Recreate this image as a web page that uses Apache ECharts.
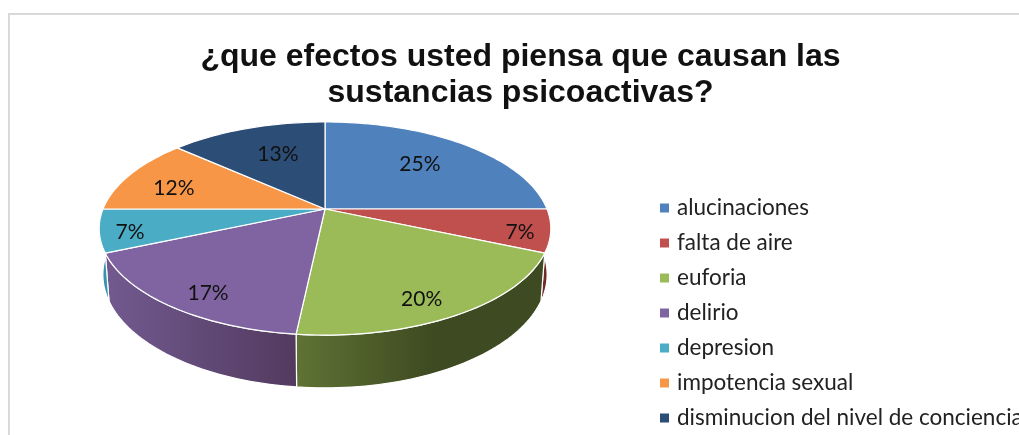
<!DOCTYPE html>
<html>
<head>
<meta charset="utf-8">
<style>html,body{margin:0;padding:0;background:#fff}#chart{width:1019px;height:435px}</style>
<script src="https://cdn.jsdelivr.net/npm/echarts@6/dist/echarts.min.js"></script>
</head>
<body>
<div id="chart"></div>
<script>
// Survey answers: share of respondents per perceived effect, in percent.
const categories = ['alucinaciones', 'falta de aire', 'euforia', 'delirio', 'depresion', 'impotencia sexual', 'disminucion del nivel de conciencia'];
const shares = [25, 6.5, 20.2, 16.8, 6.5, 11.6, 13.4];

const faceColors = ['#4f81bd', '#c0504d', '#9bbb59', '#8064a2', '#4bacc6', '#f79646', '#2c4d75'];
const wallShades = [
  ['#3a5f8c', '#2c4a6e'], ['#7a2f2d', '#5e2322'], ['#5f7334', '#3e4a21'], ['#725a90', '#523a5f'],
  ['#2f8aa3', '#3a9db6'], ['#b36a2c', '#a05e24'], ['#1f3856', '#1a2f49']
];
// Where each percentage sits: fraction of the radius, and degrees away from the slice's bisector.
const labelRadius = [0.674, 0.87, 0.836, 0.839, 0.87, 0.742, 0.648];
const labelTurn = [-1.3, 2, 3.5, -3.2, -2, -3.5, 2.8];

// Perspective disc: unit circle -> screen, with the hub off the ellipse centre.
const hub = { x: 325, y: 209 };
const scale = { x: 222, y: 103 };
const tilt = 0.183;
const drop = { height: 46, recede: 0.016 };
const START = -90;

function project(deg, r, lowered) {
  const t = deg * Math.PI / 180;
  const u = r * Math.cos(t), v = r * Math.sin(t);
  const w = 1 - tilt * v + (lowered ? drop.recede : 0);
  return [hub.x + scale.x * u / w, hub.y + (scale.y * v + (lowered ? drop.height : 0)) / w];
}
function arc(from, to, lowered) {
  const n = Math.max(2, Math.ceil(Math.abs(to - from) / 1.5));
  const pts = [];
  for (let i = 0; i <= n; i++) pts.push(project(from + (to - from) * i / n, 1, lowered));
  return pts;
}

const total = shares.reduce((a, b) => a + b, 0);
let running = 0;
const rows = shares.map(v => { const row = [v, running]; running += v; return row; });

function renderSlice(index) {
  return function (params, api) {
    const value = api.value(0), before = api.value(1);
    const a0 = START + before / total * 360;
    const a1 = a0 + value / total * 360;
    const children = [];

    // Front wall: only the stretch of rim facing the viewer (0..180 degrees).
    const w0 = Math.max(a0, 0), w1 = Math.min(a1, 180);
    if (w1 > w0) {
      const upper = arc(w0, w1, false), lower = arc(w0, w1, true).reverse();
      const pts = upper.concat(lower);
      const xs = pts.map(p => p[0]);
      children.push({
        type: 'polygon', z2: 1,
        shape: { points: pts },
        style: {
          stroke: '#fff', lineWidth: 1.2,
          fill: {
            type: 'linear', global: true,
            x: Math.min.apply(null, xs), y: 0, x2: Math.max.apply(null, xs), y2: 0,
            colorStops: [{ offset: 0, color: wallShades[index][0] }, { offset: index === 2 ? 0.55 : 1, color: wallShades[index][1] }, { offset: 1, color: wallShades[index][1] }]
          }
        }
      });
    }

    // Top face.
    children.push({
      type: 'polygon', z2: 5,
      shape: { points: [[hub.x, hub.y]].concat(arc(a0, a1, false)) },
      style: { fill: api.visual('color'), stroke: '#fff', lineWidth: 1.2, lineJoin: 'round' }
    });

    // Percentage label.
    const at = project((a0 + a1) / 2 + labelTurn[index], labelRadius[index], false);
    children.push({
      type: 'text', z2: 10, x: at[0], y: at[1] + 1,
      style: {
        text: Math.round(value / total * 100) + '%',
        font: '21px Lato', fill: '#111', align: 'center', verticalAlign: 'middle'
      }
    });
    return { type: 'group', children };
  };
}

const chart = echarts.init(document.getElementById('chart'), null, { renderer: 'canvas' });
chart.setOption({
  animation: false,
  backgroundColor: '#fff',
  color: faceColors,
  title: {
    text: '¿que efectos usted piensa que causan las\nsustancias psicoactivas?',
    left: 515.5, top: 34, textAlign: 'center',
    textStyle: { fontFamily: 'Liberation Sans', fontWeight: 'bold', fontSize: 32, lineHeight: 36, color: '#111' }
  },
  legend: {
    orient: 'vertical', left: 660, top: 195, height: 300, padding: 0,
    icon: 'rect', itemWidth: 9, itemHeight: 9, itemGap: 9,
    data: categories, selectedMode: false,
    textStyle: { fontFamily: 'Lato', fontSize: 22.5, color: '#222', lineHeight: 26, padding: [0, 0, 0, 3] }
  },
  graphic: [{
    type: 'rect', silent: true, z: -1,
    shape: { x: 9, y: 14, width: 1100, height: 600 },
    style: { fill: 'none', stroke: '#d9d9d9', lineWidth: 2 }
  }],
  series: categories.map((name, i) => ({
    type: 'custom', name, coordinateSystem: 'none',
    data: [rows[i]], renderItem: renderSlice(i), silent: true
  }))
});
</script>
</body>
</html>
